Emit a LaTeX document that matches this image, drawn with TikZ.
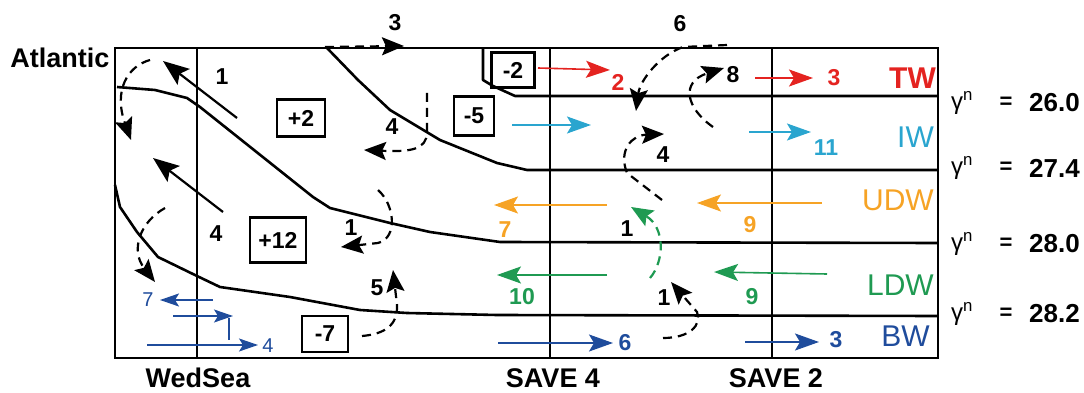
\documentclass[tikz,border=0pt]{standalone}
\usepackage{fontspec}
\setmainfont{Liberation Sans}
\usetikzlibrary{arrows.meta}
\definecolor{twred}{HTML}{E42320}
\definecolor{iwcyan}{HTML}{2AA5CF}
\definecolor{udworange}{HTML}{F6A325}
\definecolor{ldwgreen}{HTML}{1F9A52}
\definecolor{bwblue}{HTML}{1F4C9C}
\begin{document}
\begin{tikzpicture}[x=1pt,y=-1pt,
  frame/.style={line width=2.6pt},
  iso/.style={line width=2.6pt, line join=round},
  flowarrow/.style={line width=1.6pt, -{Stealth[length=24pt,width=17pt,inset=5pt]}},
  smallflow/.style={line width=1.4pt, -{Stealth[length=19pt,width=13pt,inset=4pt]}},
  circarrow/.style={line width=2.2pt, dash pattern=on 9pt off 6pt, -{Stealth[length=22pt,width=18pt,inset=4pt]}},
  solidarrow/.style={line width=2.2pt, -{Stealth[length=26pt,width=20pt,inset=5pt]}},
  num/.style={font=\fontsize{23}{23}\selectfont\bfseries, inner sep=0pt},
  valbox/.style={draw, line width=2.6pt, inner sep=0pt, font=\fontsize{23}{23}\selectfont\bfseries},
  mass/.style={font=\fontsize{30}{30}\selectfont, inner sep=0pt, anchor=east},
  sectionlab/.style={font=\fontsize{27}{27}\selectfont\bfseries, inner sep=0pt},
  gam/.style={font=\fontsize{24}{24}\selectfont, inner sep=0pt},
  eqsign/.style={font=\fontsize{22}{22}\selectfont\bfseries, inner sep=0pt},
  gval/.style={font=\fontsize{26}{26}\selectfont\bfseries, inner sep=0pt, anchor=west}
]
\useasboundingbox (0,0) rectangle (1084,393);

% frame and section lines
\draw[frame] (115,48) rectangle (938,358);
\draw[frame] (197,48) -- (197,358);
\draw[frame] (550,48) -- (550,358);
\draw[frame] (772,48) -- (772,358);

% isopycnals
\draw[iso] (938,96) -- (515,96) -- (493,86) -- (483,80) -- (483,48);
\draw[iso] (938,170) -- (527,170) -- (497,163) -- (440,140) -- (390,110) -- (358,80) -- (327,48);
\draw[iso] (117,87) -- (155,90) -- (187,98) -- (200,107) -- (313,197) -- (330,208) -- (390,223) -- (430,232) -- (500,242) -- (938,243);
\draw[iso] (115,185) -- (120,207) -- (137,232) -- (158,257) -- (197,276) -- (220,287) -- (290,297) -- (360,310) -- (407,313) -- (497,315) -- (938,316);

% text labels
\node[sectionlab] (atl) at (60,58) {Atlantic};
\node[sectionlab] (wed) at (198,378) {WedSea};
\node[sectionlab] (s4) at (553,378) {SAVE 4};
\node[sectionlab] (s2) at (776,378) {SAVE 2};

\node[mass, text=twred, font=\fontsize{30}{30}\selectfont\bfseries] (tw) at (936,78) {TW};
\node[mass, text=iwcyan] (iw) at (934,137) {IW};
\node[mass, text=udworange] (udw) at (934,200) {UDW};
\node[mass, text=ldwgreen] (ldw) at (934,285) {LDW};
\node[mass, text=bwblue] (bw) at (930,336) {BW};

% neutral density labels
\foreach \yy/\vv/\nm in {103/26.0/a, 168/27.4/b, 244/28.0/c, 314/28.2/d}{
  \node[gam] (g\nm) at (962,\yy) {γ\textsuperscript{n}};
  \node[eqsign] (e\nm) at (1006,\yy) {=};
  \node[gval] (v\nm) at (1029,\yy) {\vv};
}

% boxes with numbers
\node[valbox, minimum width=43pt, minimum height=35pt] (bxa) at (513,70) {-2};
\node[valbox, minimum width=40pt, minimum height=39pt] (bxb) at (474,116) {-5};
\node[valbox, minimum width=48pt, minimum height=37pt] (bxc) at (301,118) {+2};
\node[valbox, minimum width=56pt, minimum height=45pt] (bxd) at (278,240) {+12};
\node[valbox, minimum width=46pt, minimum height=36pt] (bxe) at (325,334) {-7};

% coloured flow arrows
\coordinate (tw1s) at (538,68);  \coordinate (tw1e) at (610,70);
\coordinate (tw2s) at (755,78);  \coordinate (tw2e) at (813,78);
\coordinate (iw1s) at (512,125); \coordinate (iw1e) at (591,125);
\coordinate (iw2s) at (749,132); \coordinate (iw2e) at (811,132);
\coordinate (ud1s) at (607,205); \coordinate (ud1e) at (494,205);
\coordinate (ud2s) at (822,203); \coordinate (ud2e) at (697,203);
\coordinate (ld1s) at (607,275); \coordinate (ld1e) at (497,275);
\coordinate (ld2s) at (827,274); \coordinate (ld2e) at (714,272);
\coordinate (bw1s) at (498,343); \coordinate (bw1e) at (613,343);
\coordinate (bw2s) at (745,342); \coordinate (bw2e) at (819,342);
\draw[flowarrow, twred] (tw1s) -- (tw1e);
\draw[flowarrow, twred] (tw2s) -- (tw2e);
\draw[flowarrow, iwcyan] (iw1s) -- (iw1e);
\draw[flowarrow, iwcyan] (iw2s) -- (iw2e);
\draw[flowarrow, udworange] (ud1s) -- (ud1e);
\draw[flowarrow, udworange] (ud2s) -- (ud2e);
\draw[flowarrow, ldwgreen] (ld1s) -- (ld1e);
\draw[flowarrow, ldwgreen] (ld2s) -- (ld2e);
\draw[flowarrow, bwblue] (bw1s) -- (bw1e);
\draw[flowarrow, bwblue] (bw2s) -- (bw2e);

\node[num, text=twred] (ntw1) at (618,82) {2};
\node[num, text=twred] (ntw2) at (834,78) {3};
\node[num, text=iwcyan] (niw2) at (826,148) {11};
\node[num, text=udworange] (nud1) at (505,230) {7};
\node[num, text=udworange] (nud2) at (750,225) {9};
\node[num, text=ldwgreen] (nld1) at (522,297) {10};
\node[num, text=ldwgreen] (nld2) at (752,297) {9};
\node[num, text=bwblue] (nbw1) at (625,343) {6};
\node[num, text=bwblue] (nbw2) at (836,340) {3};

% Weddell Sea bottom water arrows
\coordinate (wa1s) at (213,300); \coordinate (wa1e) at (160,300);
\coordinate (wa2s) at (173,316); \coordinate (wa2e) at (233,316);
\coordinate (wa3s) at (147,345); \coordinate (wa3e) at (258,345);
\coordinate (wvs) at (229,318);  \coordinate (wve) at (229,340);
\draw[smallflow, bwblue] (wa1s) -- (wa1e);
\draw[smallflow, bwblue] (wa2s) -- (wa2e);
\draw[line width=1.4pt, bwblue] (wvs) -- (wve);
\draw[smallflow, bwblue] (wa3s) -- (wa3e);
\node[num, text=bwblue, font=\fontsize{20}{20}\selectfont] (nwa1) at (148,300) {7};
\node[num, text=bwblue, font=\fontsize{20}{20}\selectfont] (nwa3) at (268,346) {4};

% black circulation arrows
\coordinate (k1s) at (237,118); \coordinate (k1e) at (163,61);
\draw[solidarrow] (k1s) -- (k1e);
\node[num] (nk1) at (222,77) {1};

\coordinate (k2s) at (150,60); \coordinate (k2e) at (131,140);
\draw[circarrow] (k2s) .. controls (128,66) and (113,90) .. (k2e);

\coordinate (k3s) at (223,212); \coordinate (k3e) at (153,158);
\draw[solidarrow] (k3s) -- (k3e);
\node[num] (nk3) at (216,234) {4};

\coordinate (k4s) at (165,208); \coordinate (k4e) at (155,282);
\draw[circarrow] (k4s) .. controls (140,222) and (130,250) .. (k4e);

\coordinate (k5s) at (325,47); \coordinate (k5e) at (404,46);
\draw[circarrow] (k5s) -- (k5e);
\node[num] (nk5) at (395,23) {3};

\coordinate (k6s) at (427,93); \coordinate (k6e) at (364,150);
\draw[circarrow] (k6s) -- (427,132) .. controls (427,150) and (410,152) .. (k6e);
\node[num] (nk6) at (392,127) {4};

\coordinate (k7s) at (378,190); \coordinate (k7e) at (341,247);
\draw[circarrow] (k7s) .. controls (395,205) and (398,238) .. (378,243) -- (k7e);
\node[num] (nk7) at (351,228) {1};

\coordinate (k8s) at (362,336); \coordinate (k8e) at (393,270);
\draw[circarrow] (k8s) .. controls (385,334) and (398,325) .. (397,305) -- (k8e);
\node[num] (nk8) at (377,288) {5};

\coordinate (k9s) at (727,45); \coordinate (k9e) at (636,111);
\draw[circarrow] (k9s) -- (683,47) .. controls (660,55) and (640,80) .. (k9e);
\node[num] (nk9) at (680,24) {6};

\coordinate (k10s) at (713,127); \coordinate (k10e) at (724,68);
\draw[circarrow] (k10s) .. controls (686,108) and (680,82) .. (k10e);
\node[num] (nk10) at (733,75) {8};

\coordinate (k11s) at (662,200); \coordinate (k11e) at (664,134);
\draw[circarrow] (k11s) -- (627,173) .. controls (618,150) and (632,135) .. (k11e);
\node[num] (nk11) at (663,155) {4};

\coordinate (k12s) at (650,278); \coordinate (k12e) at (631,207);
\draw[circarrow, ldwgreen] (k12s) .. controls (664,262) and (666,228) .. (k12e);
\node[num] (nk12) at (627,229) {1};

\coordinate (k13s) at (663,338); \coordinate (k13e) at (671,282);
\draw[circarrow] (k13s) .. controls (690,338) and (702,325) .. (697,312) -- (k13e);
\node[num] (nk13) at (664,298) {1};
\end{tikzpicture}
\end{document}
